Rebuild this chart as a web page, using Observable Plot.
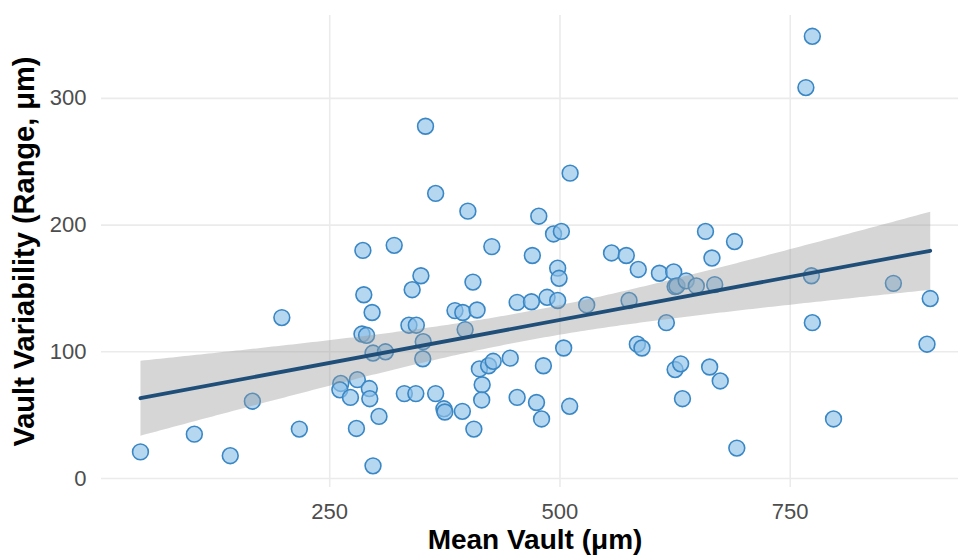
<!DOCTYPE html>
<html>
<head>
<meta charset="utf-8">
<script src="https://cdn.jsdelivr.net/npm/d3@7"></script>
<script src="https://cdn.jsdelivr.net/npm/@observablehq/plot@0.6"></script>
<style>
  html, body { margin: 0; padding: 0; background: #ffffff; }
  #chart { width: 958px; height: 556px; }
</style>
</head>
<body>
<div id="chart"></div>
<script>
const meanVault = [
  44.5, 103, 142, 166, 198, 217, 287, 296, 285, 290,
  297, 310.5, 262, 261, 280, 272.5, 293, 293.5, 303.5, 279,
  297, 286, 320, 354, 365, 400, 511, 477, 493, 501.5,
  426, 470, 349, 339.5, 405.5, 497.5, 499, 556, 572, 585,
  608, 623.5, 625, 615.5, 386, 394.5, 410, 453.5, 469, 486,
  497.5, 529, 575, 336, 344, 397, 351.5, 351, 412.5, 422.5,
  427.5, 446, 482, 504, 415.5, 415, 331, 343.5, 365, 374,
  375, 394, 406.5, 453.5, 474.5, 480, 510.5, 584, 589, 625,
  631, 633, 774, 767, 658, 689.5, 665, 627, 637, 648,
  668, 773, 862, 902, 774, 898.5, 662.5, 674, 797, 692
];
const vaultRange = [
  21, 35, 18, 61, 127, 39, 145, 131, 114, 113,
  99, 100, 75, 70, 78, 64, 71, 63, 49, 39.5,
  10, 180, 184, 278, 225, 211, 241, 207, 193, 195,
  183, 176, 160, 149, 155, 166, 158, 178, 176, 165,
  162, 163, 151.5, 123, 132.5, 131, 133, 139, 139.5, 143,
  140.5, 137, 140.5, 121, 121, 117.5, 108, 94.5, 86.5, 89,
  92.5, 95, 89, 103, 74, 62, 67, 67, 67, 55,
  52.5, 53, 39, 64, 60, 47, 57, 106, 103, 86,
  90.5, 63, 349, 308.5, 195, 187, 174, 152, 156, 152,
  153, 160, 154, 142, 123, 106, 88, 77, 47, 24
];
const xTicks = [250, 500, 750];
const yTicks = [0, 100, 200, 300];
const xTitle = "Mean Vault (μm)";
const yTitle = "Vault Variability (Range, μm)";

const data = meanVault.map((v, i) => ({x: v, y: vaultRange[i]}));

const chart = Plot.plot({
  width: 958,
  height: 556,
  marginLeft: 101,
  marginRight: 0,
  marginTop: 15,
  marginBottom: 69,
  style: {fontFamily: "'Liberation Sans', Arial, Helvetica, sans-serif", background: "#ffffff", overflow: "visible"},
  x: {domain: [2.2, 932.7]},
  y: {domain: [-7.1, 365.4]},
  marks: [
    Plot.gridX(xTicks, {stroke: "#ebebeb", strokeOpacity: 1, strokeWidth: 1.6}),
    Plot.gridY(yTicks, {stroke: "#ebebeb", strokeOpacity: 1, strokeWidth: 1.6}),
    Plot.axisX(xTicks, {tickSize: 0, tickPadding: 16, fontSize: 22, fill: "#4d4d4d", label: null}),
    Plot.axisY(yTicks, {tickSize: 0, tickPadding: 15, fontSize: 22, fill: "#4d4d4d", label: null}),
    Plot.dot(data, {x: "x", y: "y", r: 7.9, fill: "#8fc1e8", fillOpacity: 0.65, stroke: "#3a87c5", strokeWidth: 1.6}),
    Plot.linearRegressionY(data, {x: "x", y: "y", stroke: "#1f4e79", strokeWidth: 3.8, fill: "#999999", fillOpacity: 0.4, ci: 0.95}),
    Plot.text([xTitle], {frameAnchor: "bottom", dy: 53, dx: 5, lineAnchor: "middle", textAnchor: "middle", fontSize: 28, fontWeight: "bold", fill: "#000000"}),
    Plot.text([yTitle], {frameAnchor: "left", dx: -77, dy: 0, rotate: -90, lineAnchor: "middle", textAnchor: "middle", fontSize: 29, fontWeight: "bold", fill: "#000000"})
  ]
});
document.getElementById("chart").appendChild(chart);
</script>
</body>
</html>
